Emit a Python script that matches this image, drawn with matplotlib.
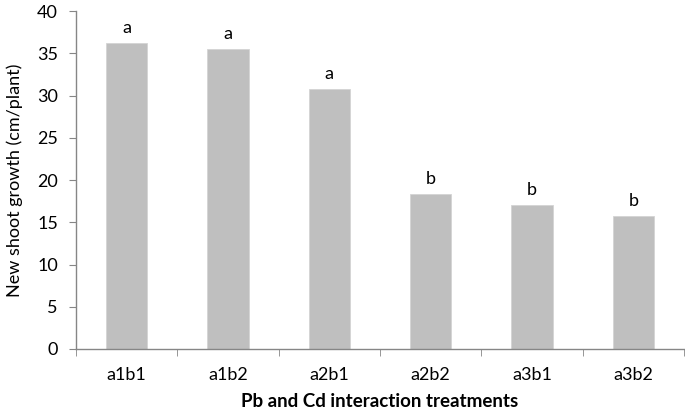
import matplotlib
matplotlib.use("Agg")
import matplotlib.pyplot as plt
import numpy as np

# data
treatments = ["a1b1", "a1b2", "a2b1", "a2b2", "a3b1", "a3b2"]
growth = [36.25, 35.5, 30.75, 18.3, 17.0, 15.75]
letters = ["a", "a", "a", "b", "b", "b"]

BAR = "#BFBFBF"
AXIS = "#868686"

plt.rcParams['font.family'] = ['Lato', 'DejaVu Sans']

fig = plt.figure(figsize=(6.85, 4.12), dpi=100)
ax = fig.add_axes([0.111, 0.153, 0.8875, 0.82])

x = np.arange(len(treatments))
bars = ax.bar(x, growth, width=0.41, color=BAR, edgecolor="#D4D4D4", linewidth=0.6)

for xi, v, l in zip(x, growth, letters):
    ax.annotate(l, (xi, v), xytext=(0, 5), textcoords="offset points",
                ha="center", va="bottom", fontsize=13, color="black")

ax.set_xlim(-0.5, len(treatments) - 0.5)
ax.set_ylim(0, 40)
ax.set_yticks(np.arange(0, 41, 5))
ax.set_xticks(x)
ax.set_xticklabels(treatments)
ax.set_xticks(np.arange(-0.5, len(treatments), 1.0), minor=True)

for s in ["top", "right"]:
    ax.spines[s].set_visible(False)
for s in ["left", "bottom"]:
    ax.spines[s].set_color(AXIS)
    ax.spines[s].set_linewidth(1.0)

ax.tick_params(axis="y", direction="out", length=5, color=AXIS, labelsize=13, pad=8)
ax.tick_params(axis="x", which="major", length=0, labelsize=13, pad=13)
ax.tick_params(axis="x", which="minor", direction="out", length=5, color=AXIS)

ax.set_ylabel("New shoot growth (cm/plant)", fontsize=13, labelpad=10)
ax.set_xlabel("Pb and Cd interaction treatments", fontsize=13.5, fontweight="bold", labelpad=7)

fig.savefig("out.png", dpi=100, facecolor="white")
